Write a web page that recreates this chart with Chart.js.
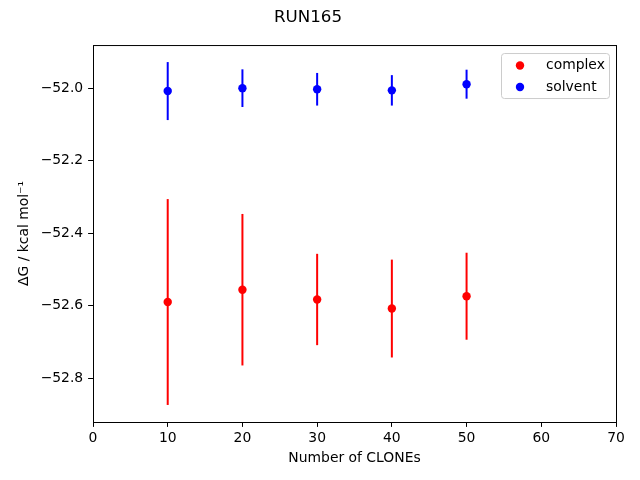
<!DOCTYPE html>
<html>
<head>
<meta charset="utf-8">
<title>RUN165</title>
<script src="https://cdn.jsdelivr.net/npm/chart.js@4.4.1/dist/chart.umd.min.js"></script>
<style>
  body { margin: 0; background: #fff; }
  canvas { display: block; }
</style>
</head>
<body>
<canvas id="myChart" width="640" height="480"></canvas>
<script>
// values
const clones = [10, 20, 30, 40, 50];
const complexValues = [-52.59, -52.556, -52.583, -52.608, -52.574];
const complexErrors = [0.284, 0.209, 0.126, 0.135, 0.120];
const solventValues = [-52.008, -52.0, -52.003, -52.006, -51.989];
const solventErrors = [0.080, 0.052, 0.045, 0.042, 0.040];
const xTicks = [0, 10, 20, 30, 40, 50, 60, 70];
const yTicks = [-52.8, -52.6, -52.4, -52.2, -52.0];

Chart.defaults.font.family = "'DejaVu Sans', sans-serif";
Chart.defaults.color = "#000";

function toPoints(values) {
    return values.map((v, i) => ({ x: clones[i], y: v }));
}

// error bars drawn under the markers
const errorBars = {
    id: "errorBars",
    beforeDatasetsDraw(chart) {
        const { ctx, scales: { x, y } } = chart;
        ctx.save();
        ctx.lineWidth = 2;
        chart.data.datasets.forEach(ds => {
            ctx.strokeStyle = ds.backgroundColor;
            ds.values.forEach((v, i) => {
                const px = x.getPixelForValue(clones[i]);
                ctx.beginPath();
                ctx.moveTo(px, y.getPixelForValue(v + ds.errors[i]));
                ctx.lineTo(px, y.getPixelForValue(v - ds.errors[i]));
                ctx.stroke();
            });
        });
        ctx.restore();
    }
};

// box around the axes and matplotlib-like legend
const frameAndLegend = {
    id: "frameAndLegend",
    afterDraw(chart) {
        const { ctx, chartArea: a } = chart;
        ctx.save();
        ctx.strokeStyle = "#000";
        ctx.lineWidth = 1;
        ctx.strokeRect(a.left + 0.5, a.top + 0.5, a.right - a.left, a.bottom - a.top);

        const w = 108, h = 45;
        const lx = a.right - 7 - w, ly = a.top + 8;
        ctx.beginPath();
        ctx.roundRect(lx + 0.5, ly + 0.5, w, h, 3);
        ctx.fillStyle = "rgba(255,255,255,0.8)";
        ctx.fill();
        ctx.strokeStyle = "#cccccc";
        ctx.stroke();

        ctx.font = "13.9px 'DejaVu Sans'";
        ctx.textBaseline = "middle";
        chart.data.datasets.forEach((ds, i) => {
            const ry = ly + 12.5 + i * 21.5;
            ctx.beginPath();
            ctx.arc(lx + 19, ry, 4.2, 0, Math.PI * 2);
            ctx.fillStyle = ds.backgroundColor;
            ctx.fill();
            ctx.fillStyle = "#000";
            ctx.fillText(ds.label, lx + 45, ry);
        });
        ctx.restore();
    }
};

const config = {
    type: "scatter",
    data: {
        datasets: [
            {
                label: "complex",
                data: toPoints(complexValues),
                values: complexValues,
                errors: complexErrors,
                backgroundColor: "#ff0000",
                borderColor: "#ff0000",
                pointRadius: 4.2,
                pointBorderWidth: 0
            },
            {
                label: "solvent",
                data: toPoints(solventValues),
                values: solventValues,
                errors: solventErrors,
                backgroundColor: "#0000ff",
                borderColor: "#0000ff",
                pointRadius: 4.2,
                pointBorderWidth: 0
            }
        ]
    },
    options: {
        responsive: false,
        animation: false,
        layout: { padding: { left: 0, right: 24, top: 0, bottom: 0 } },
        plugins: {
            legend: { display: false },
            tooltip: { enabled: false },
            title: {
                display: true,
                text: "RUN165",
                font: { size: 16.7, weight: "normal" },
                color: "#000",
                padding: { top: 8, bottom: 17 }
            }
        },
        scales: {
            x: {
                type: "linear",
                min: 0,
                max: 70,
                afterBuildTicks: s => { s.ticks = xTicks.map(v => ({ value: v })); },
                afterFit: s => { s.height = 58; },
                ticks: { font: { size: 13.9 }, color: "#000", padding: 3.5, maxRotation: 0, callback: v => String(v) },
                grid: { drawOnChartArea: false, drawTicks: true, tickLength: 4.9, tickColor: "#000", lineWidth: 1 },
                border: { display: false },
                title: { display: true, text: "Number of CLONEs", font: { size: 13.9 }, color: "#000", padding: { top: 0, bottom: 13.5 } }
            },
            y: {
                type: "linear",
                min: -52.921,
                max: -51.881,
                afterBuildTicks: s => { s.ticks = yTicks.map(v => ({ value: v })); },
                afterFit: s => { s.width = 93; },
                ticks: {
                    font: { size: 13.9 },
                    color: "#000",
                    padding: 4.9,
                    callback: v => "\u2212" + Math.abs(v).toFixed(1)
                },
                grid: { drawOnChartArea: false, drawTicks: true, tickLength: 4.9, tickColor: "#000", lineWidth: 1 },
                border: { display: false },
                title: { display: true, text: "\u0394G / kcal mol\u207B\u00B9", font: { size: 13.9 }, color: "#000", padding: { top: 16.5, bottom: 0 } }
            }
        }
    },
    plugins: [errorBars, frameAndLegend]
};

new Chart(document.getElementById("myChart").getContext("2d"), config);
</script>
</body>
</html>
